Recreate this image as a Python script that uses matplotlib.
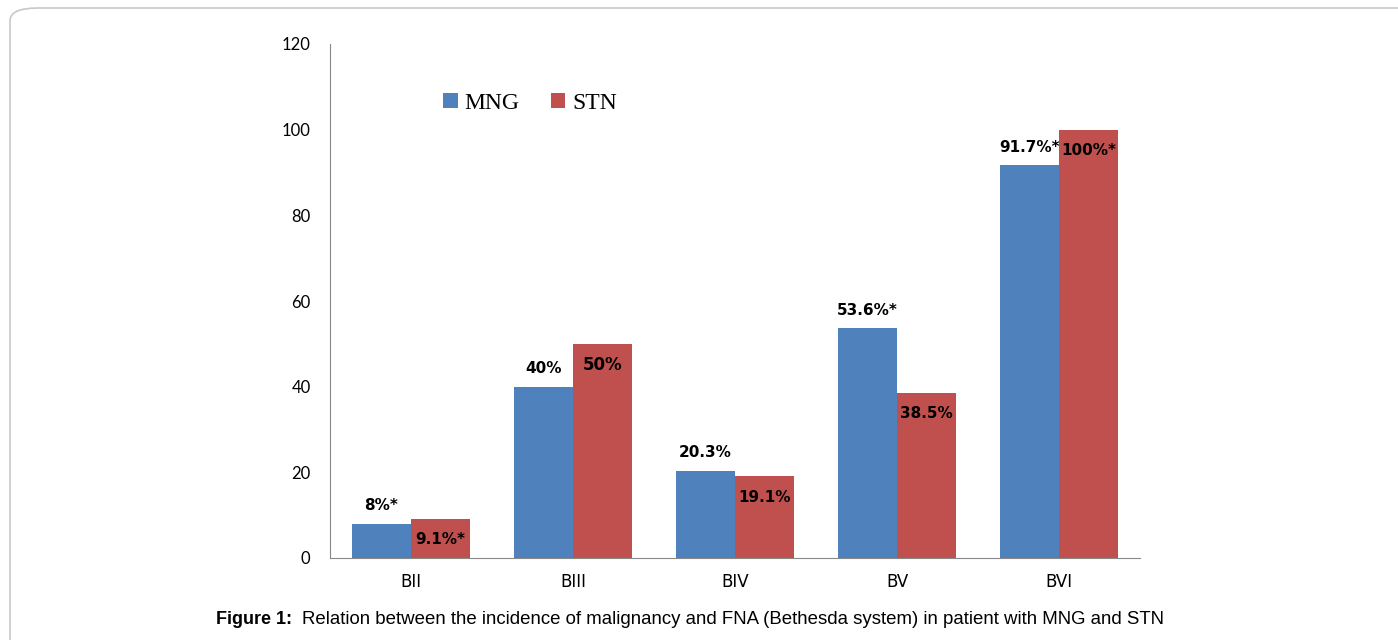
import numpy as np
import matplotlib.pyplot as plt
from matplotlib.patches import FancyBboxPatch

# datos
categorias = ['BII', 'BIII', 'BIV', 'BV', 'BVI']
mng = [8, 40, 20.3, 53.6, 91.7]
stn = [9.1, 50, 19.1, 38.5, 100]
etiquetas_mng = ['8%*', '40%', '20.3%', '53.6%*', '91.7%*']
etiquetas_stn = ['9.1%*', '50%', '19.1%', '38.5%', '100%*']

azul = '#4F81BD'
rojo = '#C0504D'

fig = plt.figure(figsize=(13.98, 6.4), dpi=100)

# marco redondeado alrededor de la figura
marco = FancyBboxPatch((10 / 1398, -0.1), 1.2, 1.1 - 8 / 640,
                       boxstyle='round,pad=0,rounding_size=0.02',
                       transform=fig.transFigure, fill=False,
                       edgecolor='#c8c8c8', linewidth=1.2)
fig.patches.append(marco)

ax = fig.add_axes([330 / 1398, 1 - 558 / 640, 810 / 1398, (558 - 44) / 640])

x = np.arange(len(categorias))
ancho = 0.365
b1 = ax.bar(x - ancho / 2, mng, ancho, color=azul, label='MNG')
b2 = ax.bar(x + ancho / 2, stn, ancho, color=rojo, label='STN')

# etiquetas: MNG encima, STN dentro de la barra
for rect, txt in zip(b1, etiquetas_mng):
    ax.annotate(txt, (rect.get_x() + rect.get_width() / 2, rect.get_height()),
                xytext=(0, 13), textcoords='offset points', ha='center', va='center',
                fontsize=11, fontweight='bold', family='DejaVu Sans')
for rect, txt in zip(b2, etiquetas_stn):
    ax.annotate(txt, (rect.get_x() + rect.get_width() / 2, rect.get_height()),
                xytext=(0, -15), textcoords='offset points', ha='center', va='center',
                fontsize=12 if txt == '50%' else 11, fontweight='bold', family='DejaVu Sans')

ax.set_xlim(-0.5, len(categorias) - 0.5)
ax.set_ylim(0, 120)
ax.set_yticks(range(0, 121, 20))
ax.set_xticks(x)
ax.set_xticklabels(categorias, family='Liberation Sans Narrow', fontsize=12)
for lab in ax.get_yticklabels():
    lab.set_family('Lato')
    lab.set_fontsize(12)
ax.tick_params(axis='y', length=0, pad=14)
ax.tick_params(axis='x', length=0, pad=11)

for lado in ['top', 'right']:
    ax.spines[lado].set_visible(False)
ax.spines['left'].set_color('#888888')
ax.spines['bottom'].set_color('#888888')

ax.legend(loc='center left', bbox_to_anchor=(0.14, 0.885), ncol=2, frameon=False,
          prop={'family': 'Liberation Serif', 'size': 17}, handlelength=0.6,
          handleheight=0.6, handletextpad=0.3, columnspacing=1.32,
          borderpad=0, borderaxespad=0)

# pie de figura
fig.text(216 / 1398, 1 - 620 / 640, 'Figure 1:', ha='left', va='center',
         fontsize=13, fontweight='bold', family='Liberation Sans')
fig.text(1164 / 1398, 1 - 620 / 640,
         'Relation between the incidence of malignancy and FNA (Bethesda system) in patient with MNG and STN',
         ha='right', va='center', fontsize=13.45, family='Liberation Sans')

plt.savefig('out.png', dpi=100)
